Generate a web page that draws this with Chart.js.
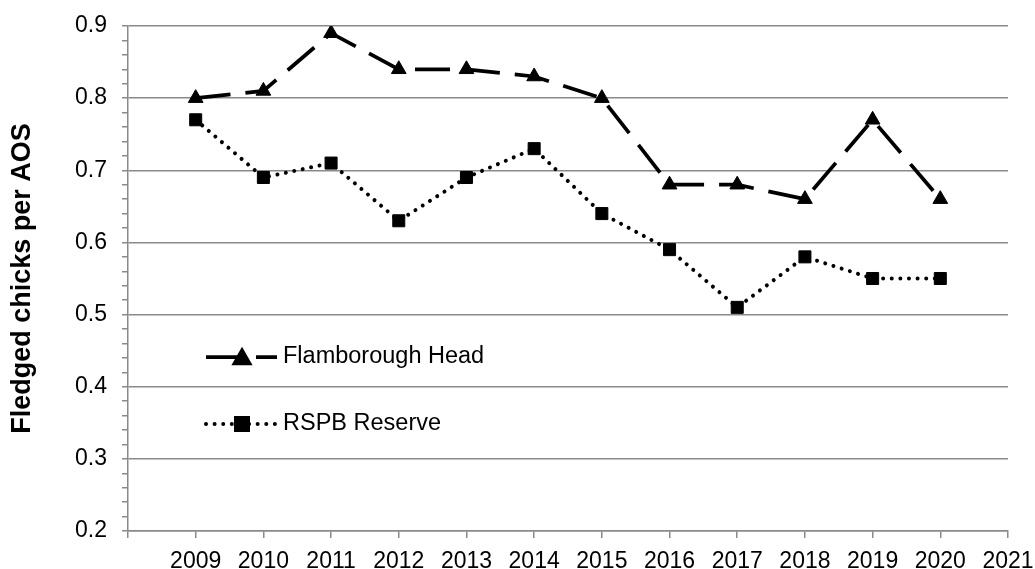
<!DOCTYPE html>
<html>
<head>
<meta charset="utf-8">
<script src="https://cdn.jsdelivr.net/npm/chart.js@4/dist/chart.umd.min.js"></script>
<style>
  html, body { margin: 0; padding: 0; background: #fff; }
  #wrap { width: 1035px; height: 569px; }
</style>
</head>
<body>
<div id="wrap"><canvas id="c" width="1035" height="569"></canvas></div>
<script>
// Breeding seasons
const years = [2009, 2010, 2011, 2012, 2013, 2014, 2015, 2016, 2017, 2018, 2019, 2020];
// Productivity: fledged chicks per apparently occupied site
const flamboroughHead = [0.80, 0.81, 0.89, 0.84, 0.84, 0.83, 0.80, 0.68, 0.68, 0.66, 0.77, 0.66];
const rspbReserve     = [0.77, 0.69, 0.71, 0.63, 0.69, 0.73, 0.64, 0.59, 0.51, 0.58, 0.55, 0.55];
const seriesNames = ['Flamborough Head', 'RSPB Reserve'];
const yAxisTitle = 'Fledged chicks per AOS';
const yTickValues = [0.2, 0.3, 0.4, 0.5, 0.6, 0.7, 0.8, 0.9];
const xTickYears = [2009, 2010, 2011, 2012, 2013, 2014, 2015, 2016, 2017, 2018, 2019, 2020, 2021];

const FONT = '"Liberation Sans", Arial, sans-serif';
const GRID = '#8a8a8a';

const toPoints = vals => years.map((y, i) => ({ x: y, y: vals[i] }));
const isMajor = v => yTickValues.some(t => Math.abs(t - v) < 1e-6);

// Legend drawn inside the plot area: line sample with its marker, then the name
const insideLegend = {
  id: 'insideLegend',
  afterDatasetsDraw(chart) {
    const { ctx, chartArea } = chart;
    const x0 = chartArea.left + 78, x1 = chartArea.left + 149, tx = chartArea.left + 155;
    const rows = [chartArea.top + 331, chartArea.top + 398];
    chart.data.datasets.forEach((ds, i) => {
      const y = rows[i];
      ctx.save();
      ctx.strokeStyle = ds.borderColor;
      ctx.lineWidth = ds.borderWidth;
      ctx.lineCap = ds.borderCapStyle || 'butt';
      ctx.setLineDash(ds.borderDash || []);
      ctx.beginPath();
      ctx.moveTo(x0, y);
      ctx.lineTo(x1, y);
      ctx.stroke();
      ctx.setLineDash([]);
      Chart.helpers.drawPoint(ctx, {
        pointStyle: ds.pointStyle, radius: ds.pointRadius, borderWidth: 1, rotation: 0
      }, (x0 + x1) / 2 + 0.5, y + (ds.pointStyle === 'triangle' ? 2 : 0));
      ctx.fillStyle = ds.pointBackgroundColor;
      ctx.fill();
      ctx.fillStyle = '#000';
      ctx.font = '23.5px ' + FONT;
      ctx.textBaseline = 'middle';
      ctx.textAlign = 'left';
      ctx.fillText(ds.label, tx, y);
      ctx.restore();
    });
  }
};

new Chart(document.getElementById('c'), {
  type: 'scatter',
  data: {
    datasets: [
      {
        label: seriesNames[0],
        data: toPoints(flamboroughHead),
        showLine: true,
        borderColor: '#000',
        borderWidth: 3.75,
        borderDash: [35, 15],
        borderCapStyle: 'butt',
        pointStyle: 'triangle',
        pointRadius: 8.5,
        pointBackgroundColor: '#000',
        pointBorderColor: '#000',
        pointBorderWidth: 1,
        tension: 0
      },
      {
        label: seriesNames[1],
        data: toPoints(rspbReserve),
        showLine: true,
        borderColor: '#000',
        borderWidth: 4,
        borderDash: [0.01, 8.6],
        borderCapStyle: 'round',
        pointStyle: 'rect',
        pointRadius: 8.5,
        pointBackgroundColor: '#000',
        pointBorderColor: '#000',
        pointBorderWidth: 1,
        tension: 0
      }
    ]
  },
  options: {
    responsive: false,
    animation: false,
    layout: { padding: { top: 26, right: 27, left: 0, bottom: 0 } },
    plugins: { legend: { display: false }, tooltip: { enabled: false } },
    scales: {
      x: {
        type: 'linear',
        min: 2008,
        max: 2021,
        afterFit: s => { s.height = 38; s.paddingLeft = 0; s.paddingRight = 0; },
        afterBuildTicks: s => { s.ticks = [2008].concat(xTickYears).map(v => ({ value: v })); },
        border: { display: true, color: GRID, width: 1.5 },
        grid: { drawOnChartArea: false, drawTicks: true, tickLength: 7, color: GRID, lineWidth: 1.5 },
        ticks: {
          autoSkip: false, maxRotation: 0, minRotation: 0, padding: 10,
          color: '#000', font: { family: FONT, size: 23 },
          callback: v => (xTickYears.includes(v) ? String(v) : '')
        }
      },
      y: {
        min: 0.2,
        max: 0.9,
        afterFit: s => { s.width = 128; s.paddingTop = 0; s.paddingBottom = 0; },
        afterBuildTicks: s => {
          const t = [];
          for (let k = 10; k <= 45; k++) t.push({ value: k / 50 });
          s.ticks = t;
        },
        border: { display: true, color: GRID, width: 1.5 },
        grid: {
          drawTicks: true, tickLength: 6, lineWidth: 1.5,
          color: c => (c.tick && isMajor(c.tick.value) ? GRID : 'rgba(0,0,0,0)'),
          tickColor: GRID
        },
        ticks: {
          autoSkip: false, padding: 15, color: '#000',
          font: { family: FONT, size: 23 },
          callback: v => (isMajor(v) ? v.toFixed(1) : '')
        },
        title: {
          display: true, text: yAxisTitle, color: '#000',
          font: { family: FONT, size: 27, weight: 'bold' },
          padding: { top: 6, bottom: 0 }
        }
      }
    }
  },
  plugins: [insideLegend]
});
</script>
</body>
</html>
